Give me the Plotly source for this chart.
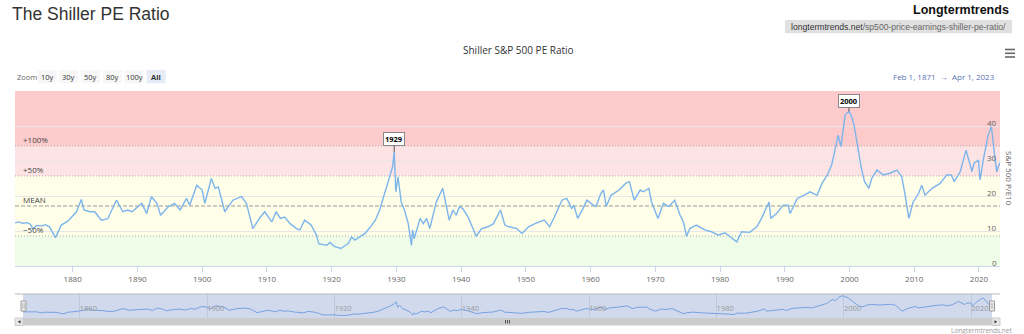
import plotly.graph_objects as go

# ---------------- data ----------------
dates = [
    "1871-02", "1871-09", "1872-04", "1872-12", "1873-06", "1873-11", "1874-06", "1875-03", "1875-10", "1876-06",
    "1877-05", "1877-10", "1878-04", "1879-04", "1880-02", "1880-08", "1881-05", "1881-10", "1882-09", "1883-06",
    "1883-11", "1884-06", "1885-06", "1886-03", "1886-10", "1887-10", "1888-07", "1889-03", "1889-12", "1890-09",
    "1891-06", "1892-03", "1893-01", "1893-08", "1894-10", "1895-10", "1896-08", "1897-08", "1898-02", "1899-03",
    "1900-01", "1900-06", "1901-06", "1902-01", "1902-07", "1903-07", "1904-10", "1906-02", "1906-11", "1907-11",
    "1909-01", "1909-09", "1910-10", "1911-06", "1912-02", "1912-10", "1913-08", "1914-08", "1915-02", "1915-11",
    "1916-11", "1917-09", "1918-01", "1919-04", "1919-10", "1920-06", "1921-06", "1922-08", "1923-02", "1923-08",
    "1924-05", "1925-03", "1926-01", "1926-10", "1927-06", "1928-04", "1928-11", "1929-04", "1929-06", "1929-09",
    "1929-12", "1930-04", "1930-10", "1931-04", "1931-11", "1932-05", "1932-07", "1932-10", "1933-09", "1934-03",
    "1934-09", "1935-03", "1936-03", "1937-03", "1937-10", "1938-03", "1938-10", "1939-04", "1939-10", "1940-04",
    "1941-02", "1942-05", "1943-03", "1944-03", "1945-01", "1946-02", "1946-10", "1947-06", "1948-08", "1949-06",
    "1950-06", "1951-06", "1952-11", "1953-09", "1954-06", "1955-08", "1956-05", "1957-02", "1957-06", "1958-01",
    "1958-11", "1959-06", "1960-06", "1960-11", "1961-08", "1962-01", "1962-06", "1963-03", "1964-06", "1965-06",
    "1966-01", "1966-10", "1967-09", "1968-03", "1969-01", "1969-06", "1970-06", "1971-04", "1972-02", "1973-01",
    "1973-11", "1974-05", "1974-11", "1975-05", "1976-05", "1977-09", "1978-09", "1979-10", "1980-10", "1981-11",
    "1982-08", "1983-05", "1984-08", "1985-09", "1986-06", "1987-02", "1987-08", "1987-11", "1988-10", "1989-10",
    "1990-07", "1990-11", "1991-12", "1992-12", "1993-12", "1995-01", "1995-10", "1996-08", "1997-04", "1997-10",
    "1998-04", "1998-09", "1999-05", "1999-12", "2000-05", "2000-09", "2001-05", "2001-11", "2002-05", "2003-01",
    "2003-06", "2004-04", "2005-04", "2006-04", "2007-05", "2008-02", "2008-08", "2009-03", "2009-11", "2010-09",
    "2011-03", "2011-09", "2012-10", "2014-01", "2015-01", "2015-10", "2016-03", "2017-02", "2018-01", "2018-12",
    "2019-04", "2019-12", "2020-03", "2020-09", "2021-06", "2021-12", "2022-06", "2022-10", "2023-01", "2023-04",
]
pe = [
    12.3, 12.6, 12.2, 12.4, 12.0, 10.6, 11.6, 11.4, 11.8, 11.2,
    8.1, 9.6, 11.7, 12.8, 14.6, 15.5, 19.0, 16.0, 15.5, 15.5,
    14.5, 13.1, 13.5, 16.5, 18.8, 15.5, 16.0, 15.5, 16.8, 17.9,
    15.0, 19.8, 17.9, 14.5, 16.9, 17.9, 16.0, 19.3, 17.4, 23.1,
    21.7, 17.9, 25.0, 22.2, 22.6, 15.5, 18.8, 19.8, 17.9, 10.7,
    14.0, 15.5, 12.6, 15.5, 13.6, 14.0, 12.1, 10.7, 10.3, 13.1,
    11.7, 8.8, 6.4, 5.9, 6.7, 5.6, 5.0, 6.4, 8.3, 7.4,
    8.3, 9.3, 11.2, 13.1, 16.0, 21.2, 24.6, 27.9, 28.3, 32.6,
    21.2, 25.5, 18.3, 16.0, 12.1, 5.9, 10.3, 7.8, 13.6, 12.1,
    13.6, 10.7, 18.3, 22.2, 16.9, 13.1, 16.0, 14.5, 16.9, 16.4,
    14.0, 8.5, 10.7, 11.2, 12.1, 16.0, 11.7, 11.2, 10.7, 9.3,
    11.2, 12.1, 13.1, 11.2, 14.0, 18.8, 19.3, 16.4, 17.4, 13.6,
    16.4, 18.8, 17.4, 17.0, 20.7, 21.7, 17.0, 20.2, 21.7, 23.6,
    24.1, 18.8, 21.7, 21.2, 22.2, 18.3, 13.6, 17.9, 17.0, 18.8,
    14.5, 12.6, 8.5, 10.7, 11.7, 10.3, 9.8, 8.8, 9.5, 7.8,
    6.9, 9.8, 9.6, 11.2, 13.6, 16.4, 18.3, 13.6, 15.0, 17.4,
    17.4, 15.0, 19.3, 20.2, 21.2, 20.2, 23.6, 26.0, 28.9, 33.1,
    37.4, 34.1, 43.2, 44.2, 42.7, 40.5, 33.6, 27.9, 24.1, 22.2,
    25.0, 27.4, 26.0, 26.5, 27.4, 25.5, 20.3, 13.6, 18.3, 20.7,
    23.1, 20.2, 22.2, 23.6, 26.0, 26.0, 24.1, 26.9, 33.1, 27.0,
    29.4, 30.3, 24.6, 30.3, 37.4, 39.8, 31.7, 26.9, 28.5, 29.4,
]
start_date = "1871-02-01"
end_date = "2023-04-01"
x_tick_years = list(range(1880, 2021, 10))
nav_tick_years = list(range(1880, 2021, 20))
y_ticks = [0, 10, 20, 30, 40, 50]
y_label_ticks = [0, 10, 20, 30, 40]
pe_mean = 17.15
band_levels = {"-50%": 0.5, "MEAN": 1.0, "+50%": 1.5, "+100%": 2.0}
zoom_labels = ["10y", "30y", "50y", "80y", "100y", "All"]
flag_dates = ["1929-09", "1999-12"]
flag_labels = ["1929", "2000"]

# ---------------- geometry helpers ----------------
W, H = 1024, 334
L, R, T, B = 15, 24, 91, 9
PW, PH = W - L - R, H - T - B


def px(x):
    return (x - L) / PW


def py(y):
    return (H - B - y) / PH


FONT = "Open Sans"
shapes = []
annotations = []

# ---------------- bands ----------------
lv = {k: pe_mean * v for k, v in band_levels.items()}
band_defs = [
    (0, lv["-50%"], "#effde8"),
    (lv["-50%"], lv["+50%"], "#fffee9"),
    (lv["+50%"], lv["+100%"], "#fde3e4"),
    (lv["+100%"], 50, "#fdcbcb"),
]
for y0, y1, col in band_defs:
    shapes.append(dict(type="rect", xref="x domain", yref="y", x0=0, x1=1, y0=y0, y1=y1,
                       fillcolor=col, line=dict(width=0), layer="below"))
for name, val in lv.items():
    if name == "MEAN":
        ln = dict(color="#999999", width=1, dash="4px,2px")
    else:
        ln = dict(color="#aaaaaa", width=1, dash="1px,2px")
    shapes.append(dict(type="line", xref="x domain", yref="y", x0=0, x1=1, y0=val, y1=val,
                       line=ln, layer="below"))
    annotations.append(dict(xref="paper", yref="y", x=px(21), y=val, text=name.replace("-", "−"),
                            showarrow=False, xanchor="left", yanchor="bottom", yshift=-1,
                            font=dict(family=FONT, size=8, color="#444")))

# y-axis labels (inside, slightly above the grid lines)
for t in y_label_ticks:
    annotations.append(dict(xref="paper", yref="y", x=px(999), y=t, text=str(t), showarrow=False,
                            xanchor="right", yanchor="middle", yshift=3.5,
                            font=dict(family=FONT, size=8, color="#666")))

# ---------------- flags ----------------
for d, lab in zip(flag_dates, flag_labels):
    v = pe[dates.index(d)]
    annotations.append(dict(x=d + "-01", y=v, xref="x", yref="y", text="<b>%s</b>" % lab,
                            showarrow=True, arrowhead=0, arrowwidth=1, arrowcolor="#555",
                            ax=0, ay=-13 if lab == "1929" else -10,
                            bgcolor="white", bordercolor="#888", borderwidth=1, borderpad=1,
                            font=dict(family=FONT, size=7.5, color="#000")))

# ---------------- header texts ----------------
annotations += [
    dict(xref="paper", yref="paper", x=px(10), y=py(13.5), text="The Shiller PE Ratio", showarrow=False,
         xanchor="left", yanchor="middle", font=dict(family="Liberation Sans", size=17.5, color="#333")),
    dict(xref="paper", yref="paper", x=px(1011), y=py(10), text="<b>Longtermtrends</b>", showarrow=False,
         xanchor="right", yanchor="middle", font=dict(family="Liberation Sans", size=12.5, color="#111")),
    dict(xref="paper", yref="paper", x=px(789), y=py(27), showarrow=False, xanchor="left", yanchor="middle",
         text='<span style="color:#333">longtermtrends.net</span><span style="color:#666">/sp500-price-earnings-shiller-pe-ratio/</span>',
         font=dict(family="Liberation Sans", size=8.6, color="#555")),
    dict(xref="paper", yref="paper", x=px(518), y=py(50), text="Shiller S&P 500 PE Ratio", showarrow=False,
         xanchor="center", yanchor="middle", font=dict(family=FONT, size=10, color="#333")),
    dict(xref="paper", yref="paper", x=px(997), y=py(76), text="Feb 1, 1871  \u2192  Apr 1, 2023", showarrow=False,
         xanchor="right", yanchor="middle", font=dict(family=FONT, size=8, color="#5a72b4")),
    dict(xref="paper", yref="paper", x=px(15), y=py(76.5), text="Zoom", showarrow=False,
         xanchor="left", yanchor="middle", font=dict(family=FONT, size=7.5, color="#666")),
    dict(xref="paper", yref="paper", x=px(1010), y=py(178), text="S&P 500 P/E10", showarrow=False,
         textangle=90, xanchor="center", yanchor="middle", font=dict(family=FONT, size=8, color="#666")),
    dict(xref="paper", yref="paper", x=px(1014), y=py(330), text="Longtermtrends.net", showarrow=False,
         xanchor="right", yanchor="middle", font=dict(family=FONT, size=6.5, color="#999")),
]
shapes.append(dict(type="rect", xref="paper", yref="paper", x0=px(785), x1=px(1012), y0=py(33.3), y1=py(20),
                   fillcolor="#e0e0e0", line=dict(width=0)))
# hamburger menu
for yy in (49.5, 53.3, 57):
    shapes.append(dict(type="line", xref="paper", yref="paper", x0=px(1005), x1=px(1015), y0=py(yy), y1=py(yy),
                       line=dict(color="#666", width=1.6)))

# zoom buttons
btn_x = [37.7, 59.3, 81.0, 102.7, 124.3, 146.7]
btn_w = [19, 19, 19, 19, 20, 19]
for lab, x0, w in zip(zoom_labels, btn_x, btn_w):
    sel = lab == "All"
    shapes.append(dict(type="rect", xref="paper", yref="paper", x0=px(x0), x1=px(x0 + w), y0=py(83.3), y1=py(70),
                       fillcolor="#e6ebf5" if sel else "#f7f7f7", line=dict(width=0)))
    annotations.append(dict(xref="paper", yref="paper", x=px(x0 + w / 2), y=py(76.5),
                            text="<b>%s</b>" % lab if sel else lab, showarrow=False,
                            xanchor="center", yanchor="middle", font=dict(family=FONT, size=7.5, color="#333")))

# ---------------- navigator decorations ----------------
shapes.append(dict(type="rect", xref="x2 domain", yref="y2 domain", x0=0, x1=1, y0=0, y1=1,
                   fillcolor="#d1daed", line=dict(width=0), layer="below"))
shapes.append(dict(type="line", xref="paper", yref="paper", x0=px(15), x1=px(1000), y0=py(294), y1=py(294),
                   line=dict(color="#b8b8b8", width=1)))
for cx in (23.5, 992):
    shapes.append(dict(type="rect", xref="paper", yref="paper", x0=px(cx - 2.5), x1=px(cx + 2.5),
                       y0=py(311), y1=py(301), fillcolor="#f2f2f2", line=dict(color="#999", width=1)))
    for dx in (-0.8, 0.8):
        shapes.append(dict(type="line", xref="paper", yref="paper", x0=px(cx + dx), x1=px(cx + dx),
                           y0=py(309), y1=py(303), line=dict(color="#999", width=0.6)))
# scrollbar
shapes.append(dict(type="rect", xref="paper", yref="paper", x0=px(15), x1=px(1000), y0=py(325.5), y1=py(318),
                   fillcolor="#cccccc", line=dict(width=0)))
for x0 in (15, 992):
    shapes.append(dict(type="rect", xref="paper", yref="paper", x0=px(x0), x1=px(x0 + 8), y0=py(325.5), y1=py(318),
                       fillcolor="#e6e6e6", line=dict(color="#cccccc", width=1)))


def tri(pts):
    return "M " + " L ".join("%f,%f" % (px(a), py(b)) for a, b in pts) + " Z"


shapes.append(dict(type="path", xref="paper", yref="paper", path=tri([(20.5, 320.2), (17.8, 321.8), (20.5, 323.4)]),
                   fillcolor="#333", line=dict(width=0)))
shapes.append(dict(type="path", xref="paper", yref="paper", path=tri([(994.5, 320.2), (997.2, 321.8), (994.5, 323.4)]),
                   fillcolor="#333", line=dict(width=0)))
for gx in (505.5, 507.5, 509.5):
    shapes.append(dict(type="line", xref="paper", yref="paper", x0=px(gx), x1=px(gx), y0=py(320), y1=py(323.5),
                       line=dict(color="#333", width=0.8)))

# ---------------- traces ----------------
xd = [d + "-01" for d in dates]
fig = go.Figure()
fig.add_trace(go.Scatter(x=xd, y=pe, mode="lines", line=dict(color="#7cb5ec", width=1.4),
                         xaxis="x", yaxis="y", hoverinfo="x+y"))
fig.add_trace(go.Scatter(x=xd, y=pe, mode="lines", line=dict(color="#76a3e0", width=1),
                         xaxis="x2", yaxis="y2", hoverinfo="skip"))

fig.update_layout(
    width=W, height=H,
    margin=dict(l=L, r=R, t=T, b=B, pad=0),
    paper_bgcolor="white", plot_bgcolor="white",
    showlegend=False,
    font=dict(family=FONT),
    xaxis=dict(domain=[0, 1], anchor="y", range=[start_date, end_date],
               tickvals=["%d-01-01" % y for y in x_tick_years], ticktext=[str(y) for y in x_tick_years],
               ticks="outside", ticklen=5, tickcolor="#ccd6eb", showline=True, linecolor="#ccd6eb",
               showgrid=False, zeroline=False, tickfont=dict(family=FONT, size=8, color="#666")),
    yaxis=dict(domain=[py(266), 1], anchor="x", side="right", range=[0, 50],
               tickvals=y_ticks, showticklabels=False,
               showgrid=True, gridcolor="#e6e6e6", gridwidth=1, zeroline=False, showline=False, ticks=""),
    xaxis2=dict(domain=[px(23), px(992)], anchor="y2", range=[start_date, end_date],
                tickvals=["%d-01-01" % y for y in nav_tick_years], ticktext=[str(y) for y in nav_tick_years],
                ticklabelposition="inside right", ticks="", showline=False, showgrid=True,
                gridcolor="#bec8de", gridwidth=1, zeroline=False,
                tickfont=dict(family=FONT, size=7.5, color="#999")),
    yaxis2=dict(domain=[py(318), py(294)], anchor="x2", range=[0, 48], visible=False),
    shapes=shapes,
    annotations=annotations,
)

fig.write_html("out.html")
